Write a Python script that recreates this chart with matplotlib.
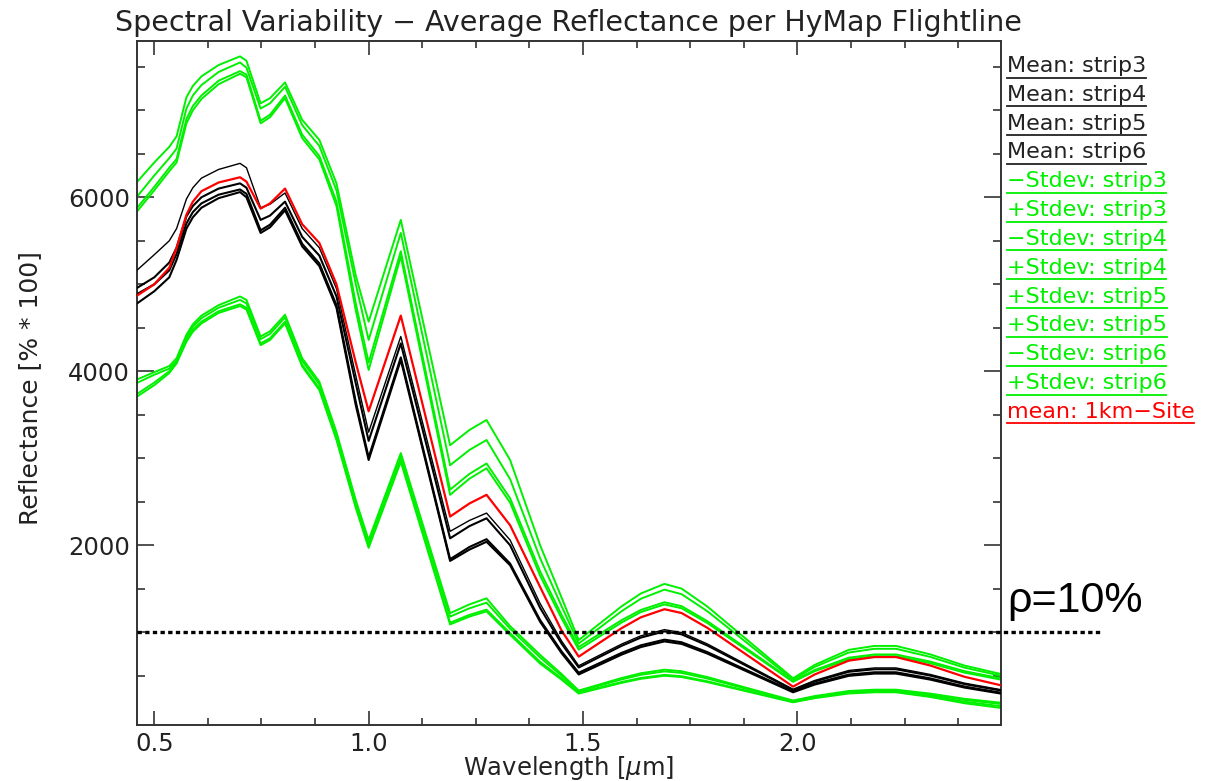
import matplotlib
matplotlib.use('Agg')
import matplotlib.pyplot as plt
import matplotlib.transforms as mtransforms
from matplotlib.lines import Line2D
from matplotlib.ticker import MultipleLocator, FixedLocator

W, H, DPI = 1209, 781, 100

# ---------------- data ----------------
wavelength = [0.457, 0.500, 0.535, 0.552, 0.575, 0.590, 0.610, 0.650, 0.700, 0.715,
              0.748, 0.770, 0.805, 0.845, 0.885, 0.925, 0.970, 1.000, 1.075, 1.190,
              1.235, 1.275, 1.330, 1.400, 1.450, 1.490, 1.540, 1.590, 1.635, 1.690,
              1.730, 1.790, 1.990, 2.040, 2.120, 2.180, 2.230, 2.310, 2.390, 2.475]

mean_strip3 = [5150, 5340, 5500, 5640, 5980, 6110, 6220, 6320, 6390, 6340,
               5880, 5920, 6050, 5640, 5420, 4950, 3950, 3300, 4400, 2160,
               2285, 2370, 2060, 1330, 900, 615, 740, 864, 959, 1030,
               996, 866, 345, 445, 561, 590, 590, 515, 415, 340]
mean_strip4 = [4950, 5080, 5250, 5420, 5780, 5900, 6000, 6100, 6160, 6110,
               5740, 5790, 5950, 5545, 5330, 4860, 3860, 3200, 4320, 2080,
               2220, 2310, 2000, 1280, 870, 595, 720, 844, 939, 1010,
               976, 848, 335, 433, 546, 575, 575, 502, 404, 330]
mean_strip5 = [4880, 5000, 5160, 5350, 5700, 5830, 5930, 6030, 6090, 6040,
               5620, 5685, 5880, 5465, 5240, 4760, 3650, 3010, 4160, 1840,
               1980, 2070, 1790, 1140, 780, 535, 649, 763, 850, 915,
               885, 772, 320, 410, 514, 540, 540, 470, 376, 305]
mean_strip6 = [4770, 4920, 5080, 5280, 5640, 5770, 5880, 5990, 6060, 6000,
               5590, 5655, 5850, 5435, 5210, 4730, 3610, 2980, 4130, 1820,
               1950, 2040, 1770, 1120, 760, 515, 629, 743, 830, 895,
               866, 755, 310, 398, 499, 525, 525, 456, 364, 295]

plus_std_strip3 = [6160, 6400, 6580, 6700, 7150, 7280, 7390, 7520, 7620, 7570,
                   7080, 7140, 7320, 6890, 6660, 6160, 5100, 4570, 5740, 3150,
                   3325, 3440, 2980, 2000, 1400, 910, 1104, 1298, 1446, 1556,
                   1502, 1296, 471, 624, 798, 843, 843, 746, 617, 520]
plus_std_strip4 = [5990, 6250, 6450, 6560, 7020, 7170, 7290, 7440, 7550, 7490,
                   7020, 7080, 7270, 6830, 6590, 6080, 5000, 4360, 5590, 2920,
                   3095, 3210, 2760, 1850, 1300, 870, 1056, 1242, 1385, 1490,
                   1438, 1242, 455, 601, 767, 810, 810, 717, 593, 500]
plus_std_strip5 = [5860, 6120, 6340, 6440, 6900, 7050, 7170, 7340, 7450, 7410,
                   6880, 6950, 7170, 6720, 6475, 5950, 4780, 4100, 5380, 2640,
                   2820, 2940, 2540, 1700, 1200, 830, 985, 1139, 1257, 1345,
                   1300, 1128, 440, 565, 708, 745, 745, 663, 553, 470]
plus_std_strip6 = [5820, 6080, 6300, 6400, 6850, 7000, 7130, 7300, 7420, 7380,
                   6850, 6920, 7140, 6680, 6435, 5900, 4700, 4015, 5320, 2580,
                   2765, 2885, 2490, 1650, 1160, 800, 956, 1112, 1232, 1320,
                   1276, 1106, 430, 551, 690, 725, 725, 644, 536, 455]

minus_std_strip3 = [3900, 3990, 4060, 4150, 4420, 4540, 4640, 4760, 4860, 4820,
                    4400, 4460, 4650, 4150, 3880, 3300, 2520, 2060, 3060, 1220,
                    1320, 1390, 1070, 740, 520, 330, 402, 474, 529, 570,
                    552, 485, 215, 266, 325, 340, 340, 295, 235, 190]
minus_std_strip4 = [3860, 3960, 4030, 4120, 4390, 4510, 4610, 4730, 4820, 4780,
                    4370, 4430, 4620, 4120, 3850, 3270, 2490, 2030, 3030, 1180,
                    1275, 1340, 1040, 710, 500, 320, 389, 458, 511, 550,
                    533, 468, 210, 259, 316, 330, 330, 284, 222, 175]
minus_std_strip5 = [3730, 3870, 4000, 4110, 4360, 4475, 4570, 4690, 4770, 4730,
                    4320, 4380, 4570, 4075, 3805, 3230, 2450, 1990, 2980, 1110,
                    1200, 1260, 990, 660, 470, 305, 367, 428, 475, 510,
                    495, 436, 200, 249, 306, 320, 320, 269, 201, 150]
minus_std_strip6 = [3700, 3840, 3980, 4090, 4340, 4455, 4550, 4670, 4750, 4710,
                    4300, 4360, 4550, 4055, 3785, 3210, 2430, 1970, 2960, 1090,
                    1180, 1240, 970, 640, 455, 295, 357, 418, 465, 500,
                    485, 427, 195, 242, 296, 310, 310, 256, 184, 130]

mean_1km_site = [4860, 5000, 5190, 5420, 5800, 5950, 6070, 6170, 6230, 6180,
                 5870, 5930, 6100, 5690, 5475, 5000, 4100, 3540, 4640, 2330,
                 2480, 2580, 2230, 1520, 1020, 720, 884, 1047, 1172, 1265,
                 1221, 1051, 375, 514, 674, 715, 715, 618, 488, 390]

legend_labels = ['Mean: strip3', 'Mean: strip4', 'Mean: strip5', 'Mean: strip6',
                 '\u2212Stdev: strip3', '+Stdev: strip3', '\u2212Stdev: strip4',
                 '+Stdev: strip4', '+Stdev: strip5', '+Stdev: strip5',
                 '\u2212Stdev: strip6', '+Stdev: strip6', 'mean: 1km\u2212Site']

rho_level = 1000
rho_label = '\u03c1=10%'
title_text = 'Spectral Variability \u2212 Average Reflectance per HyMap Flightline'
xlabel_text = r'Wavelength [$\mu$m]'
ylabel_text = 'Reflectance [% * 100]'
xticks = [0.5, 1.0, 1.5, 2.0]
xticklabels = ['0.5', '1.0', '1.5', '2.0']
yticks = [2000, 4000, 6000]
yticklabels = ['2000', '4000', '6000']
yminor = [500, 1000, 1500, 2500, 3000, 3500, 4500, 5000, 5500, 6500, 7000, 7500]

# ---------------- styling ----------------
BLACK = '#000000'
GREEN = '#00f000'
RED = '#ff0000'
TXT = '#222222'
AX = '#333333'

plt.rcParams['font.family'] = ['DejaVu Sans']

fig = plt.figure(figsize=(W / DPI, H / DPI), dpi=DPI)

def fx(px):
    return px / W

def fy(py):
    return 1 - py / H

L, R, T, B = 136.7, 1001.0, 40.7, 725.0
ax = fig.add_axes([fx(L), fy(B), (R - L) / W, (B - T) / H])
ax.set_xlim(0.459, 2.475)
ax.set_ylim(-66, 7800)

# lines
for s in [mean_strip4, mean_strip5, mean_strip6]:
    ax.plot(wavelength, s, color=BLACK, lw=1.5, zorder=3)
ax.plot(wavelength, mean_strip3, color=BLACK, lw=1.0, zorder=3)
for s in [plus_std_strip3, plus_std_strip4, plus_std_strip5, plus_std_strip6,
          minus_std_strip3, minus_std_strip4, minus_std_strip5, minus_std_strip6]:
    ax.plot(wavelength, s, color=GREEN, lw=1.4, zorder=2)
ax.plot(wavelength, mean_1km_site, color=RED, lw=1.6, zorder=4)

# rho = 10% dotted line extending beyond the axes
blend = mtransforms.blended_transform_factory(fig.transFigure, ax.transData)
fig.add_artist(Line2D([fx(L), fx(1101)], [rho_level, rho_level], transform=blend,
                      color='black', lw=2.4, ls=(0, (1.3, 1.0)), zorder=5))

# axes styling
for sp in ax.spines.values():
    sp.set_color(AX)
    sp.set_linewidth(1.4)
ax.set_xticks(xticks)
ax.set_xticklabels(xticklabels)
ax.set_yticks(yticks)
ax.set_yticklabels(yticklabels)
ax.xaxis.set_minor_locator(MultipleLocator(0.125))
ax.yaxis.set_minor_locator(FixedLocator(yminor))
ax.xaxis.set_tick_params(which='major', direction='in', top=True, bottom=True,
                         length=10, width=1.2, color=AX, pad=5,
                         labelsize=17.5, labelcolor=TXT)
ax.xaxis.set_tick_params(which='minor', direction='in', top=True, bottom=True,
                         length=5, width=1.2, color=AX)
ax.yaxis.set_tick_params(which='major', direction='in', left=True, right=True,
                         length=12.5, width=1.2, color=AX, pad=5,
                         labelsize=17.5, labelcolor=TXT)
ax.yaxis.set_tick_params(which='minor', direction='in', left=True, right=True,
                         length=6, width=1.2, color=AX)

# title and axis labels
fig.text(fx((L + R) / 2), fy(31), title_text, ha='center', va='baseline',
         fontsize=20.5, color=TXT)
fig.text(fx(569), fy(775), xlabel_text, ha='center', va='baseline',
         fontsize=17.5, color=TXT)
fig.text(fx(30), fy(388), ylabel_text, ha='center', va='center', rotation=90,
         fontsize=18, color=TXT)

# rho label
fig.text(fx(1007), fy(612), rho_label, ha='left', va='baseline',
         fontsize=31, color='black', family=['Liberation Sans', 'DejaVu Sans'])

# IDL style legend: text with an underline of the text's own width
legend_colors = [BLACK] * 4 + [GREEN] * 8 + [RED]
fig.canvas.draw()
renderer = fig.canvas.get_renderer()
step = 28.83
for i, (lab, col) in enumerate(zip(legend_labels, legend_colors)):
    tcol = TXT if col == BLACK else col
    t = fig.text(fx(1006.6), fy(72 + step * i), lab, ha='left', va='baseline',
                 fontsize=16, color=tcol)
    bb = t.get_window_extent(renderer)
    yl = fy(77.5 + step * i)
    fig.add_artist(Line2D([bb.x0 / W, bb.x1 / W], [yl, yl], color=tcol, lw=1.3))

fig.savefig('out.png', dpi=DPI)
